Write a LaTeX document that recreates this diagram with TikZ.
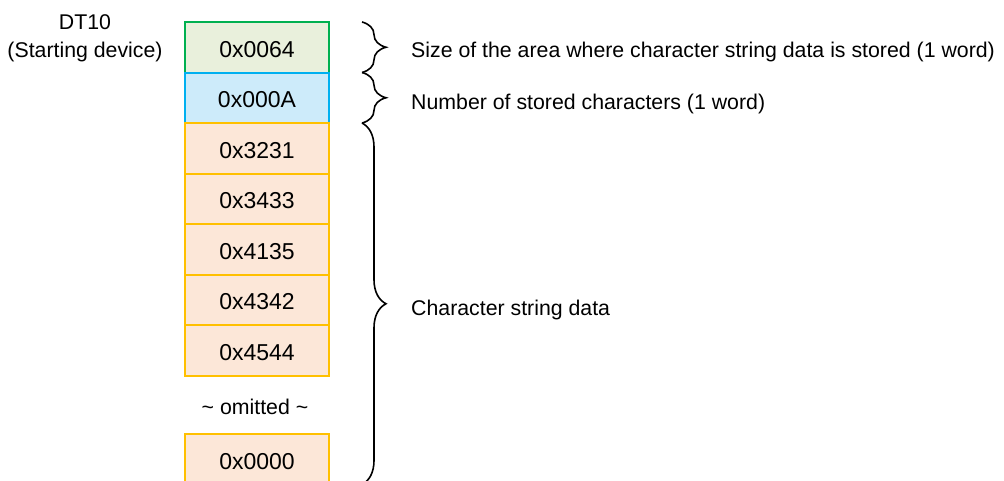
\documentclass[tikz,border=0pt]{standalone}
\usepackage{fontspec}
\setmainfont{Liberation Sans}
\usetikzlibrary{decorations.pathreplacing}
\definecolor{gfill}{HTML}{E9F0DC}
\definecolor{gline}{HTML}{00B050}
\definecolor{bfill}{HTML}{CDEBFA}
\definecolor{bline}{HTML}{00B0F0}
\definecolor{ofill}{HTML}{FCE7D8}
\definecolor{oline}{HTML}{FFC000}
\tikzset{
  cell/.style={draw, line width=2pt, minimum width=144pt, minimum height=50.5pt, inner sep=0pt,
    text height=20pt, text depth=0pt, font=\fontsize{23}{27}\selectfont},
  gcell/.style={cell, fill=gfill, draw=gline},
  bcell/.style={cell, fill=bfill, draw=bline},
  ocell/.style={cell, fill=ofill, draw=oline},
  lbl/.style={inner sep=0pt, anchor=base, font=\fontsize{21.3}{25}\selectfont},
  brc/.style={decorate, decoration={brace, amplitude=24pt, aspect=0.5}, line width=1.6pt, black}
}
\begin{document}
\begin{tikzpicture}[x=1pt, y=-1pt]
\useasboundingbox (0,0) rectangle (1004,480);
\node[lbl] (dt) at (85,29.3) {DT10};
\node[lbl] (sd) at (85,57.3) {(Starting device)};
\node[gcell] (c1) at (257,47.25) {0x0064};
\node[bcell] (c2) at (257,97.75) {0x000A};
\node[ocell] (c3) at (257,148.25) {0x3231};
\node[ocell] (c4) at (257,198.75) {0x3433};
\node[ocell] (c5) at (257,249.25) {0x4135};
\node[ocell] (c6) at (257,299.75) {0x4342};
\node[ocell] (c7) at (257,350.25) {0x4544};
\node[lbl] (om) at (255,414) {\textasciitilde{} omitted \textasciitilde};
\node[ocell] (c8) at (257,459.25) {0x0000};
\coordinate (b1t) at (362,22);
\coordinate (b1b) at (362,72.5);
\coordinate (b2b) at (362,123);
\coordinate (b3b) at (362,484.5);
\draw[brc] (b1t) -- (b1b);
\draw[brc] (b1b) -- (b2b);
\draw[brc] (b2b) -- (b3b);
\node[lbl, anchor=base west] (t1) at (411,57.3) {Size of the area where character string data is stored (1 word)};
\node[lbl, anchor=base west] (t2) at (411,109) {Number of stored characters (1 word)};
\node[lbl, anchor=base west] (t3) at (411,315.3) {Character string data};
\end{tikzpicture}
\end{document}
